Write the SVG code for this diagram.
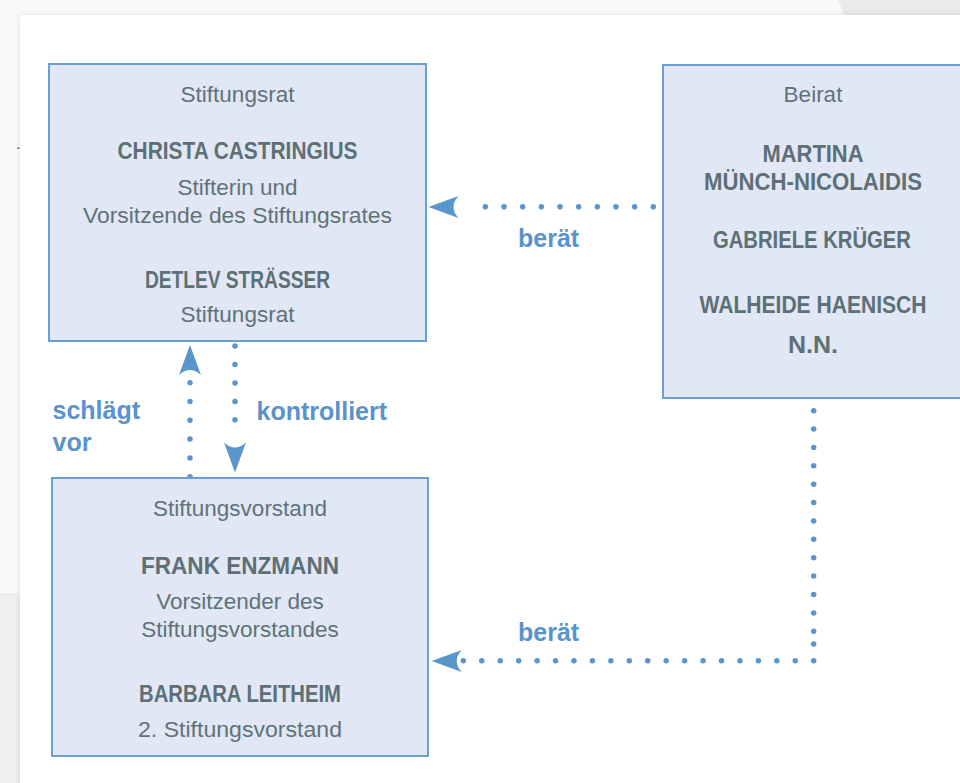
<svg xmlns="http://www.w3.org/2000/svg" width="960" height="783" viewBox="0 0 960 783">
<defs>
<style>
.box{fill:#e1e7f4;stroke:#6a9fd5;stroke-width:2}
.t{font-family:"Liberation Sans",Arial,sans-serif;font-size:22.5px;fill:#5f7377;text-anchor:middle}
.b{font-family:"Liberation Sans",Arial,sans-serif;font-size:23px;font-weight:bold;fill:#5c7075;text-anchor:middle}
.lbl{font-family:"Liberation Sans",Arial,sans-serif;font-size:25px;font-weight:bold;fill:#5a93cb}
.dot{fill:none;stroke:#5a95cc;stroke-width:5.5;stroke-linecap:round}
.ah{fill:#5a95cc}
</style>
<filter id="sh" x="-5%" y="-5%" width="110%" height="110%">
<feDropShadow dx="0" dy="0" stdDeviation="3" flood-color="#000" flood-opacity="0.12"/>
</filter>
<path id="arrow" d="M0,0 L-30,-11 Q-20,0 -30,11 Z"/>
</defs>

<rect x="0" y="0" width="960" height="783" fill="#fafafa"/>
<polygon points="838,0 960,0 960,20 847,20" fill="#ebebeb"/>
<rect x="0" y="593" width="22" height="190" fill="#efefef"/>
<rect x="20" y="15" width="950" height="780" fill="#ffffff" filter="url(#sh)"/>
<rect x="17" y="147.5" width="3" height="1.5" fill="#5a95cc"/>

<g id="connectors">
<path class="dot" d="M653.3,206.7 H466.7" stroke-dasharray="0 18.66"/>
<use href="#arrow" class="ah" transform="translate(428.5,207) rotate(180)"/>
<path class="dot" d="M235,346 V438.3" stroke-dasharray="0 18.46"/>
<use href="#arrow" class="ah" transform="translate(235,472.5) rotate(90)"/>
<path class="dot" d="M190,476.7 V382.7" stroke-dasharray="0 18.8"/>
<use href="#arrow" class="ah" transform="translate(190,345) rotate(-90)"/>
<path class="dot" d="M813.7,410.7 V631.3" stroke-dasharray="0 18.38"/>
<path class="dot" d="M813.7,644 V644.01"/>
<path class="dot" d="M813.7,660.7 H463.3" stroke-dasharray="0 18.44"/>
<use href="#arrow" class="ah" transform="translate(431.7,661) rotate(180)"/>
<text class="lbl" x="518" y="247">berät</text>
<text class="lbl" x="518" y="641">berät</text>
<text class="lbl" x="52.5" y="419">schlägt</text>
<text class="lbl" x="52.5" y="451">vor</text>
<text class="lbl" x="256.5" y="420">kontrolliert</text>
</g>

<g id="stiftungsrat">
<rect class="box" x="49" y="64" width="377" height="277"/>
<text class="t" x="237.5" y="102">Stiftungsrat</text>
<text class="b" x="237.5" y="159" textLength="240" lengthAdjust="spacingAndGlyphs">CHRISTA CASTRINGIUS</text>
<text class="t" x="237.5" y="195">Stifterin und</text>
<text class="t" x="237.5" y="223" textLength="309" lengthAdjust="spacingAndGlyphs">Vorsitzende des Stiftungsrates</text>
<text class="b" x="237.5" y="288" textLength="185" lengthAdjust="spacingAndGlyphs">DETLEV STRÄSSER</text>
<text class="t" x="237.5" y="322">Stiftungsrat</text>
</g>

<g id="beirat">
<rect class="box" x="663" y="65" width="310" height="333"/>
<text class="t" x="813" y="102">Beirat</text>
<text class="b" x="813" y="162" textLength="101" lengthAdjust="spacingAndGlyphs">MARTINA</text>
<text class="b" x="813" y="190" textLength="218" lengthAdjust="spacingAndGlyphs">MÜNCH-NICOLAIDIS</text>
<text class="b" x="812" y="248" textLength="198" lengthAdjust="spacingAndGlyphs">GABRIELE KRÜGER</text>
<text class="b" x="813" y="313" textLength="227" lengthAdjust="spacingAndGlyphs">WALHEIDE HAENISCH</text>
<text class="b" x="813" y="353" textLength="50" lengthAdjust="spacingAndGlyphs">N.N.</text>
</g>

<g id="stiftungsvorstand">
<rect class="box" x="52" y="478" width="376" height="278"/>
<text class="t" x="240" y="516">Stiftungsvorstand</text>
<text class="b" x="240" y="574" textLength="198" lengthAdjust="spacingAndGlyphs">FRANK ENZMANN</text>
<text class="t" x="240" y="609">Vorsitzender des</text>
<text class="t" x="240" y="637">Stiftungsvorstandes</text>
<text class="b" x="240" y="702" textLength="202" lengthAdjust="spacingAndGlyphs">BARBARA LEITHEIM</text>
<text class="t" x="240" y="737" textLength="204" lengthAdjust="spacingAndGlyphs">2. Stiftungsvorstand</text>
</g>
</svg>
